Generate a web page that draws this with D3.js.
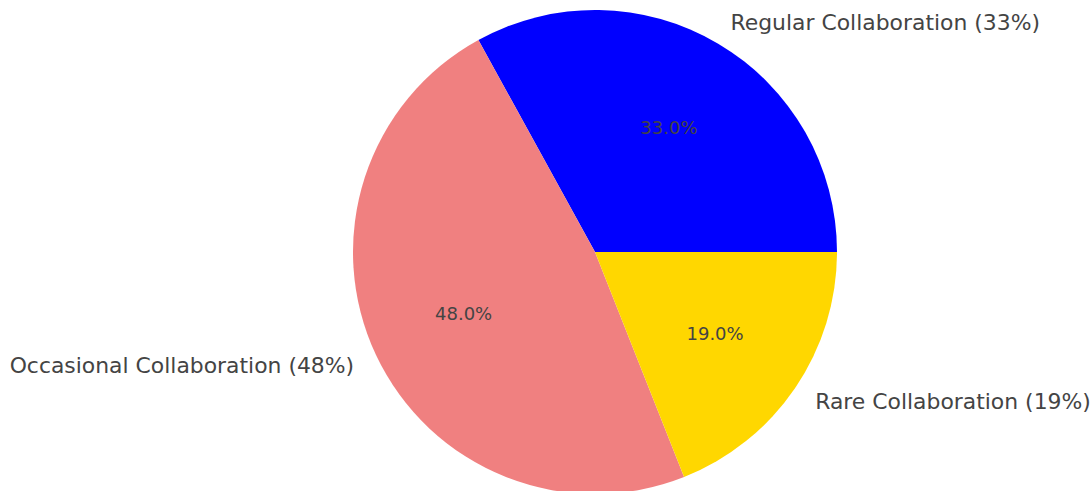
<!DOCTYPE html>
<html><head><meta charset="utf-8">
<script src="https://cdn.jsdelivr.net/npm/d3@7"></script>
<style>body{margin:0;background:#fff;}svg{display:block;}</style>
</head><body>
<svg id="chart" width="1091" height="491"></svg>
<script>
const categories = ["Regular Collaboration", "Occasional Collaboration", "Rare Collaboration"];
const values = [33, 48, 19];
const colors = ["#0000ff", "#f08080", "#ffd700"];

const svg = d3.select("#chart");
const cx = 595, cy = 252, r = 242;
const g = svg.append("g").attr("transform", `translate(${cx},${cy})`);

const data = categories.map((c, i) => ({name: c, value: values[i], color: colors[i]}));
const pie = d3.pie().value(d => d.value).sort(null)
  .startAngle(Math.PI / 2).endAngle(Math.PI / 2 - 2 * Math.PI);
const arcs = pie(data);
const arc = d3.arc().innerRadius(0).outerRadius(r);
const labelArc = d3.arc().innerRadius(r * 1.1).outerRadius(r * 1.1);
const pctArc = d3.arc().innerRadius(r * 0.6).outerRadius(r * 0.6);

g.selectAll("path.slice").data(arcs).enter().append("path")
  .attr("class", "slice").attr("d", arc).attr("fill", d => d.data.color);

g.selectAll("text.lbl").data(arcs).enter().append("text")
  .attr("class", "lbl")
  .attr("x", d => labelArc.centroid(d)[0])
  .attr("y", d => labelArc.centroid(d)[1])
  .attr("text-anchor", d => labelArc.centroid(d)[0] >= 0 ? "start" : "end")
  .attr("dominant-baseline", "central")
  .style("font-family", "DejaVu Sans")
  .style("font-size", "21.9px")
  .attr("fill", "#444")
  .text(d => `${d.data.name} (${d.data.value}%)`);

g.selectAll("text.pct").data(arcs).enter().append("text")
  .attr("class", "pct")
  .attr("x", d => pctArc.centroid(d)[0])
  .attr("y", d => pctArc.centroid(d)[1])
  .attr("text-anchor", "middle")
  .attr("dominant-baseline", "central")
  .style("font-family", "DejaVu Sans")
  .style("font-size", "18px")
  .attr("fill", "#444")
  .text(d => d.data.value.toFixed(1) + "%");
</script>
</body></html>
